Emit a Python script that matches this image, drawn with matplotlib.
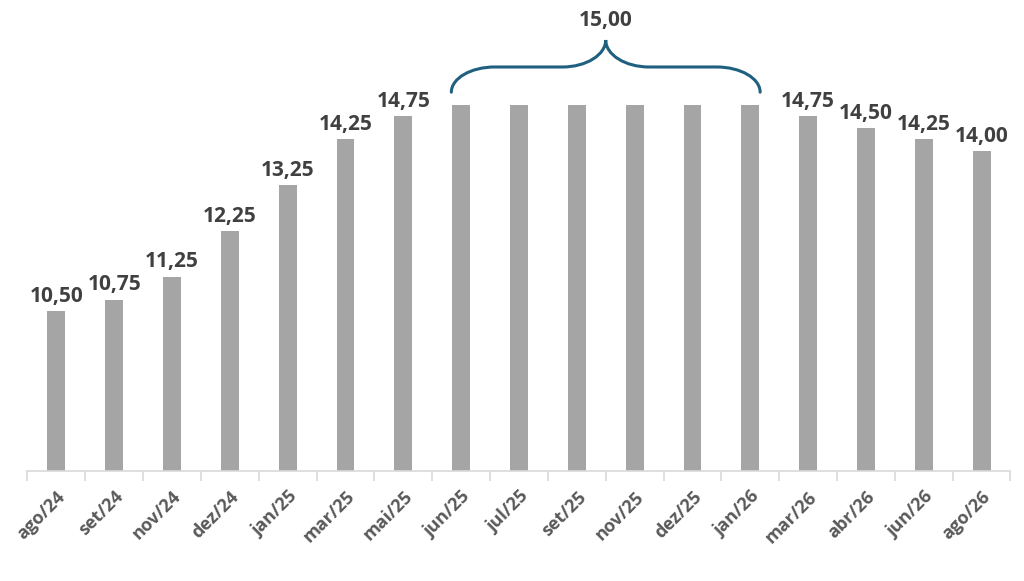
import matplotlib
matplotlib.use("Agg")
import matplotlib.pyplot as plt
from matplotlib.path import Path
from matplotlib.patches import PathPatch
import numpy as np

categories = ["ago/24", "set/24", "nov/24", "dez/24", "jan/25", "mar/25", "mai/25",
              "jun/25", "jul/25", "set/25", "nov/25", "dez/25", "jan/26",
              "mar/26", "abr/26", "jun/26", "ago/26"]
values = [10.50, 10.75, 11.25, 12.25, 13.25, 14.25, 14.75,
          15.00, 15.00, 15.00, 15.00, 15.00, 15.00,
          14.75, 14.50, 14.25, 14.00]
brace_label = "15,00"
brace_start, brace_end = 7, 12   # indices of bars under the brace

def fmt(v):
    return f"{v:.2f}".replace(".", ",")

W, H = 1024, 581
fig = plt.figure(figsize=(W / 100, H / 100), dpi=100)
left, right, bottom_px = 27.5, 1010.5, 471
ax = fig.add_axes([left / W, (H - bottom_px) / H, (right - left) / W, bottom_px / H])

x = np.arange(len(categories))
bar_color = "#A5A5A5"
ax.bar(x, values, width=0.31, color=bar_color, zorder=2)

ax.set_xlim(-0.5, len(categories) - 0.5)
ax.set_ylim(7.005, 7.005 + 471 / 45.78)

for s in ["top", "right", "left"]:
    ax.spines[s].set_visible(False)
ax.spines["bottom"].set_color("#D9D9D9")
ax.spines["bottom"].set_linewidth(1.2)
ax.set_yticks([])

ax.set_xticks(x)
ax.set_xticklabels(categories, rotation=45, ha="right", rotation_mode="anchor",
                   fontsize=13, fontweight="bold", color="#595959", family="Open Sans")
ax.tick_params(axis="x", which="major", length=0, pad=12)
ax.set_xticks(np.arange(-0.5, len(categories)), minor=True)
ax.tick_params(axis="x", which="minor", length=7, color="#D9D9D9", width=1.2)

label_kw = dict(ha="center", va="bottom", fontsize=15, fontweight="bold",
                color="#404040", family="Open Sans")
for i, v in enumerate(values):
    if brace_start <= i <= brace_end:
        continue
    ax.annotate(fmt(v), (i, v), xytext=(0, 3), textcoords="offset points", **label_kw)

# Curly brace over the flat 15,00 stretch
x0 = brace_start - 0.17
x1 = brace_end + 0.17
xm = (brace_start + brace_end) / 2
y_end, y_mid, y_tip = 15.28, 15.83, 16.42
r = 0.75
k = 0.55
verts = [
    (x0, y_end),
    (x0, y_end + k * (y_mid - y_end)), (x0 + (1 - k) * r, y_mid), (x0 + r, y_mid),
    (xm - r, y_mid),
    (xm - (1 - k) * r, y_mid), (xm, y_tip - k * (y_tip - y_mid)), (xm, y_tip),
    (xm, y_tip - k * (y_tip - y_mid)), (xm + (1 - k) * r, y_mid), (xm + r, y_mid),
    (x1 - r, y_mid),
    (x1 - (1 - k) * r, y_mid), (x1, y_end + k * (y_mid - y_end)), (x1, y_end),
]
codes = [Path.MOVETO,
         Path.CURVE4, Path.CURVE4, Path.CURVE4,
         Path.LINETO,
         Path.CURVE4, Path.CURVE4, Path.CURVE4,
         Path.CURVE4, Path.CURVE4, Path.CURVE4,
         Path.LINETO,
         Path.CURVE4, Path.CURVE4, Path.CURVE4]
ax.add_patch(PathPatch(Path(verts, codes), facecolor="none", edgecolor="#1F5F7F",
                       linewidth=2.2, capstyle="round", clip_on=False, zorder=3))
ax.text(xm, 16.62, brace_label, **label_kw)

fig.savefig("out.png", dpi=100)
